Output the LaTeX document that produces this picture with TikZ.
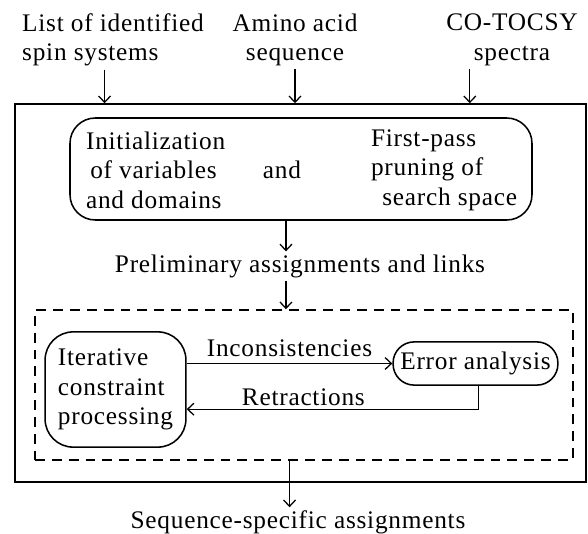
\documentclass[tikz,border=0pt]{standalone}
\usepackage{fontspec}
\setmainfont[LetterSpace=3]{Liberation Serif}
\usetikzlibrary{arrows.meta,positioning,fit}

\tikzset{
  arr/.style={-{Straight Barb[length=4.5pt,width=8.5pt]}, line width=0.9pt},
  rbox/.style={draw, line width=1.1pt, rounded corners=16pt},
  lbl/.style={font=\fontsize{18}{21}\selectfont, inner sep=2pt, align=center}
}

\begin{document}
\begin{tikzpicture}[x=0.025cm, y=-0.025cm]
  \useasboundingbox (0,0) rectangle (588,534);

  % Inputs
  \node[lbl, align=left] (list) at (113,40) {List of identified\\spin systems};
  \node[lbl] (seq) at (295,40) {Amino acid\\sequence};
  \node[lbl] (spec) at (512,40) {CO-TOCSY\\spectra};

  % Frames
  \node[draw, line width=1.1pt, inner sep=0pt, fit={(15,104) (586,482)}] (outer) {};
  \node[rbox, rounded corners=18pt, inner sep=0pt, fit={(70,118) (532,220)}] (prep) {};
  \node[draw, line width=1.1pt, dash pattern=on 7pt off 5pt, inner sep=0pt, fit={(35,310) (573,460)}] (loop) {};

  % Preprocessing
  \node[lbl, align=left, anchor=west] (init) at (83,170) {Initialization\\\hspace{3pt}of variables\\and domains};
  \node[lbl] (and) at (282,170) {and};
  \node[lbl, align=left, anchor=west] (prune) at (368,170) {First-pass\\pruning of\\\hspace{8pt}search space};

  \node[lbl] (prelim) at (300,266) {Preliminary assignments and links};

  % Constraint loop
  \node[rbox, lbl, align=left, rounded corners=20pt, minimum width=3.52cm, minimum height=2.88cm] (iter) at (115.5,389.5) {Iterative\\constraint\\processing};
  \node[rbox, lbl, minimum width=4.12cm, minimum height=1.08cm, rounded corners=15pt] (err) at (475.5,363.5) {Error analysis};

  \node[lbl] (out) at (298,522) {Sequence-specific assignments};

  % Edges
  \draw[arr] ([xshift=-6pt]list.south) -- ([xshift=-6pt]list.south |- outer.north);
  \draw[arr] (seq.south) -- (seq.south |- outer.north);
  \draw[arr] ([xshift=-30pt]spec.south) -- ([xshift=-30pt]spec.south |- outer.north);
  \draw[arr] ([xshift=-10pt]prep.south -| prelim) -- ([xshift=-10pt]prelim.north);
  \draw[arr] ([xshift=-10pt]prelim.south) -- ([xshift=-10pt]prelim.south |- loop.north);
  \draw[arr] (iter.east |- err.west) -- (err.west) node[lbl, midway, above=2pt] {Inconsistencies};
  \draw[arr] ([xshift=2pt]err.south) |- ([yshift=-14pt]iter.east) node[lbl, pos=0.8, above] {Retractions};
  \draw[arr] ([xshift=-6pt]loop.south -| out) -- ([xshift=-6pt]out.north);
\end{tikzpicture}
\end{document}
